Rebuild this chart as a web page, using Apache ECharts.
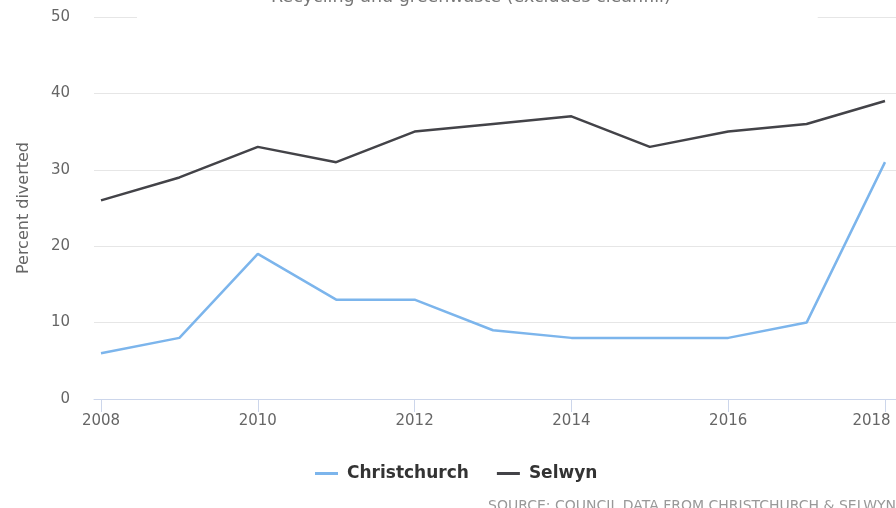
<!DOCTYPE html>
<html>
<head>
<meta charset="utf-8">
<script src="https://cdn.jsdelivr.net/npm/echarts@6/dist/echarts.min.js"></script>
<style>
  html, body { margin: 0; padding: 0; background: #fff; }
  #chart { width: 896px; height: 508px; }
</style>
</head>
<body>
<div id="chart"></div>
<script>
const years = [2008, 2009, 2010, 2011, 2012, 2013, 2014, 2015, 2016, 2017, 2018];
const christchurch = [6, 8, 19, 13, 13, 9, 8, 8, 8, 10, 31];
const selwyn = [26, 29, 33, 31, 35, 36, 37, 33, 35, 36, 39];
const seriesNames = ["Christchurch", "Selwyn"];
const titleText = "Recycling and greenwaste (excludes cleanfill)";
const sourceText = "SOURCE: COUNCIL DATA FROM CHRISTCHURCH & SELWYN";

const font = "DejaVu Sans";
const pairs = (vals) => years.map((y, i) => [y, vals[i]]);
const lastYear = years[years.length - 1];

const myChart = echarts.init(document.getElementById("chart"));
const option = {
  animation: false,
  textStyle: { fontFamily: font },
  title: [
    {
      text: titleText,
      left: 137,
      top: -16,
      padding: [4, 147, 13, 134],
      backgroundColor: "#fff",
      z: 10,
      textStyle: { fontFamily: font, fontSize: 17.5, fontWeight: "normal", color: "#777" },
    },
    {
      text: sourceText,
      left: 488,
      top: 499,
      padding: 0,
      textStyle: { fontFamily: font, fontSize: 14, fontWeight: "normal", color: "#999" },
    },
  ],
  legend: {
    data: seriesNames,
    left: 310,
    top: 460,
    icon: "rect",
    itemWidth: 23,
    itemHeight: 3,
    itemGap: 28,
    textStyle: { fontFamily: font, fontSize: 17, fontWeight: "bold", color: "#333", padding: [0, 0, 0, 4] },
  },
  grid: [
    { left: 94, right: 0, top: 17, bottom: 109, outerBoundsMode: "none" },
    { left: 101, right: 11, top: 17, bottom: 109, outerBoundsMode: "none" },
  ],
  xAxis: [
    {
      gridIndex: 0,
      type: "value",
      min: 0,
      max: 1,
      axisLine: { show: true, lineStyle: { color: "#ccd6eb", width: 1 } },
      axisTick: { show: false },
      axisLabel: { show: false },
      splitLine: { show: false },
    },
    {
      gridIndex: 1,
      type: "value",
      min: 2008,
      max: 2018,
      interval: 2,
      axisLine: { show: false },
      axisTick: { show: true, length: 13, lineStyle: { color: "#ccd6eb" } },
      axisLabel: {
        fontFamily: font,
        fontSize: 15,
        color: "#666",
        margin: 15,
        hideOverlap: false,
        // last label is pushed left to stay inside the chart
        formatter: (v) => (v === lastYear ? "{last|" + v + "}" : String(v)),
        rich: {
          last: { fontFamily: font, fontSize: 15, color: "#666", padding: [0, 27, 0, 0] },
        },
      },
      splitLine: { show: false },
    },
  ],
  yAxis: [
    {
      gridIndex: 0,
      type: "value",
      min: 0,
      max: 50,
      interval: 10,
      name: "Percent diverted",
      nameLocation: "middle",
      nameGap: 62,
      nameTextStyle: { fontFamily: font, fontSize: 16, color: "#666" },
      axisLine: { show: false },
      axisTick: { show: false },
      axisLabel: { fontFamily: font, fontSize: 15, color: "#666", margin: 24 },
      splitLine: { lineStyle: { color: "#e6e6e6" } },
    },
    {
      gridIndex: 1,
      type: "value",
      min: 0,
      max: 50,
      show: false,
      splitLine: { show: false },
    },
  ],
  series: [
    {
      name: seriesNames[0],
      type: "line",
      xAxisIndex: 1,
      yAxisIndex: 1,
      symbol: "none",
      color: "#7cb5ec",
      lineStyle: { width: 2.5 },
      data: pairs(christchurch),
    },
    {
      name: seriesNames[1],
      type: "line",
      xAxisIndex: 1,
      yAxisIndex: 1,
      symbol: "none",
      color: "#434348",
      lineStyle: { width: 2.5 },
      data: pairs(selwyn),
    },
  ],
};
myChart.setOption(option);
</script>
</body>
</html>
